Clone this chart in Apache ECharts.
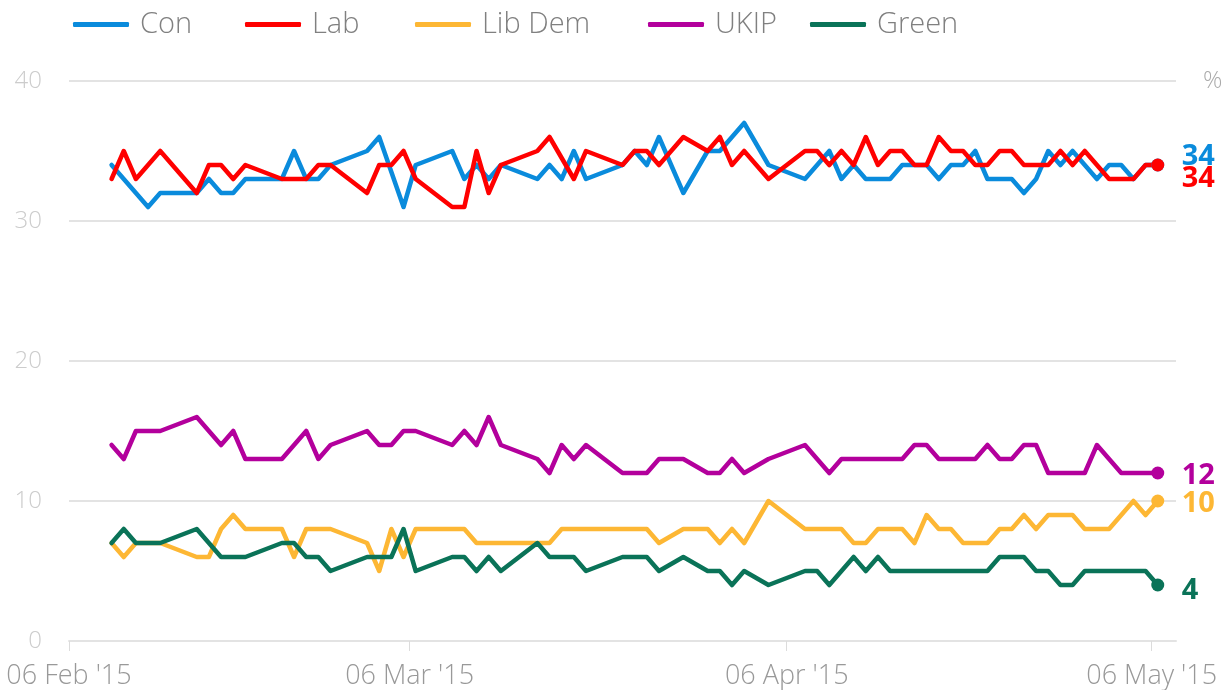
<!DOCTYPE html>
<html>
<head>
<meta charset="utf-8">
<script src="https://cdn.jsdelivr.net/npm/echarts@6/dist/echarts.min.js"></script>
<style>
html,body{margin:0;padding:0;background:#fff;}
#chart{width:1230px;height:690px;}
</style>
</head>
<body>
<div id="chart"></div>
<script>
// Poll dates (fieldwork dates)
const dates = [
 '2015-02-09','2015-02-10','2015-02-11','2015-02-12','2015-02-13',
 '2015-02-16','2015-02-17','2015-02-18','2015-02-19','2015-02-20',
 '2015-02-23','2015-02-24','2015-02-25','2015-02-26','2015-02-27',
 '2015-03-02','2015-03-03','2015-03-04','2015-03-05','2015-03-06',
 '2015-03-09','2015-03-10','2015-03-11','2015-03-12','2015-03-13',
 '2015-03-16','2015-03-17','2015-03-18','2015-03-19','2015-03-20',
 '2015-03-23','2015-03-24','2015-03-25','2015-03-26','2015-03-28',
 '2015-03-30','2015-03-31','2015-04-01','2015-04-02','2015-04-04',
 '2015-04-07','2015-04-08','2015-04-09','2015-04-10','2015-04-11',
 '2015-04-12','2015-04-13','2015-04-14','2015-04-15','2015-04-16',
 '2015-04-17','2015-04-18','2015-04-19','2015-04-20','2015-04-21',
 '2015-04-22','2015-04-23','2015-04-24','2015-04-25','2015-04-26',
 '2015-04-27','2015-04-28','2015-04-29','2015-04-30','2015-05-01',
 '2015-05-02','2015-05-03','2015-05-04','2015-05-05','2015-05-06'
];
const con = [34,33,32,31,32, 32,33,32,32,33, 33,35,33,33,34, 35,36,null,31,34,
 35,33,34,33,34, 33,34,33,35,33, 34,35,34,36,32, 35,35,36,37,34,
 33,34,35,33,34, 33,33,33,34,34, 34,33,34,34,35, 33,33,33,32,33,
 35,34,35,34,33, 34,34,33,34,34];
const lab = [33,35,33,34,35, 32,34,34,33,34, 33,33,33,34,34, 32,34,34,35,33,
 31,31,35,32,34, 35,36,null,33,35, 34,35,35,34,36, 35,36,34,35,33,
 35,35,34,35,34, 36,34,35,35,34, 34,36,35,35,34, 34,35,35,34,34,
 34,35,34,35,34, 33,33,33,34,34];
const libDem = [7,6,7,7,7, 6,6,8,9,8, 8,6,8,8,8, 7,5,8,6,8,
 8,8,7,7,7, 7,7,8,8,8, 8,8,8,7,8, 8,7,8,7,10,
 8,8,8,8,7, 7,8,8,8,7, 9,8,8,7,7, 7,8,8,9,8,
 9,9,9,8,8, 8,9,10,9,10];
const ukip = [14,13,15,15,15, 16,15,14,15,13, 13,14,15,13,14, 15,14,14,15,15,
 14,15,14,16,14, 13,12,14,13,14, 12,12,12,13,13, 12,12,13,12,13,
 14,13,12,13,13, 13,13,13,13,14, 14,13,13,13,13, 14,13,13,14,14,
 12,12,12,12,14, 13,12,12,12,12];
const green = [7,8,7,7,7, 8,7,6,6,6, 7,7,6,6,5, 6,6,6,8,5,
 6,6,5,6,5, 7,6,6,6,5, 6,6,6,5,6, 5,5,4,5,4,
 5,5,4,5,6, 5,6,5,5,5, 5,5,5,5,5, 5,6,6,6,5,
 5,4,4,5,5, 5,5,5,5,4];
const seriesNames = ['Con','Lab','Lib Dem','UKIP','Green'];
const seriesColors = ['#0a8bdc','#ff0000','#fdb734','#b3009c','#0a7358'];
const tickDates = ['2015-02-06','2015-03-06','2015-04-06','2015-05-06'];
const yTicks = [0,10,20,30,40];
const axisRange = ['2015-02-06','2015-05-08'];

function toTime(s, h){ const p = s.split('-').map(Number); return Date.UTC(p[0], p[1]-1, p[2], h||0); }
const months = ['Jan','Feb','Mar','Apr','May','Jun','Jul','Aug','Sep','Oct','Nov','Dec'];
function fmtDate(v){ const d = new Date(v); return String(d.getUTCDate()).padStart(2,'0') + ' ' + months[d.getUTCMonth()] + " '" + String(d.getUTCFullYear()).slice(2); }

const allValues = [con, lab, libDem, ukip, green];
const labelOffsets = [[0,-8],[0,14],[0,3],[0,3],[0,6]];
const FONT = '"Open Sans", Lato, sans-serif';

const series = allValues.map((vals, si) => {
  const data = vals.map((v, i) => {
    const item = { value: [toTime(dates[i], 12), v] };
    if (i === vals.length - 1) { item.symbol = 'circle'; item.symbolSize = 13; }
    return item;
  });
  return {
    name: seriesNames[si], type: 'line', data,
    symbol: 'none', showSymbol: true, connectNulls: true,
    lineStyle: { width: 4.5, color: seriesColors[si], cap: 'round', join: 'round' },
    itemStyle: { color: seriesColors[si] },
    emphasis: { disabled: true },
    endLabel: {
      show: true, formatter: p => p.value[1], color: seriesColors[si],
      fontFamily: FONT, fontSize: 29, fontWeight: 'bold',
      distance: 24, offset: labelOffsets[si]
    }
  };
});

const legendLefts = [68, 240, 410, 643, 805];
const legends = seriesNames.map((n, i) => ({
  data: [n], left: legendLefts[i], top: 5, icon: 'roundRect',
  itemWidth: 56, itemHeight: 5, itemGap: 0, selectedMode: false,
  textStyle: { fontFamily: FONT, fontSize: 29, fontWeight: 300, color: '#808080', padding: [0,0,0,6] }
}));

const tickVals = tickDates.map(d => toTime(d));
const chart = echarts.init(document.getElementById('chart'), null, { renderer: 'canvas' });
chart.setOption({
  animation: false,
  backgroundColor: '#fff',
  legend: legends,
  grid: { left: 69, right: 54, top: 81, bottom: 47, containLabel: false },
  xAxis: {
    type: 'value', min: toTime(axisRange[0]), max: toTime(axisRange[1]), scale: true,
    axisLine: { show: true, lineStyle: { color: '#e3e3e3', width: 2 } },
    axisTick: { show: true, length: 10, lineStyle: { color: '#dcdcdc', width: 1 }, customValues: tickVals },
    axisLabel: { customValues: tickVals, formatter: fmtDate,
      fontFamily: FONT, fontSize: 27, fontWeight: 300, color: '#999999', margin: 22, hideOverlap: false },
    splitLine: { show: false }
  },
  yAxis: [{
    type: 'value', min: yTicks[0], max: yTicks[yTicks.length-1], interval: 10,
    axisLine: { show: false }, axisTick: { show: false },
    axisLabel: { fontFamily: FONT, fontSize: 24, fontWeight: 300, color: '#cccccc', margin: 27 },
    splitLine: { show: true, lineStyle: { color: '#e3e3e3', width: 2 } }
  }, {
    type: 'value', position: 'right', min: yTicks[0], max: yTicks[yTicks.length-1], interval: 10,
    axisLine: { show: false }, axisTick: { show: false }, splitLine: { show: false },
    axisLabel: { formatter: v => v === 40 ? '%' : '', fontFamily: FONT, fontSize: 24, fontWeight: 300, color: '#aaaaaa', margin: 27 }
  }],
  series
});
</script>
</body>
</html>
